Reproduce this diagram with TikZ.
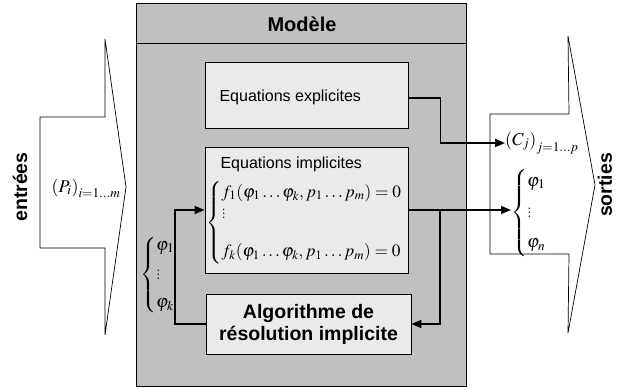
\documentclass[tikz,border=0pt]{standalone}
\usepackage{mathptmx}
\usepackage[no-math]{fontspec}
\setsansfont{Liberation Sans}
\usetikzlibrary{arrows.meta}

\definecolor{modelgray}{HTML}{C0C0C0}
\definecolor{boxgray}{HTML}{EAEAEA}

\tikzset{
  frame/.style={draw=black, line width=0.8pt},
  blockbox/.style={frame, fill=boxgray, inner sep=0pt},
  bigarrow/.style={draw=black, line width=0.7pt, fill=white, line join=miter},
  conn/.style={line width=1.6pt},
  arr/.style={conn, -{Triangle[length=10pt,width=8pt]}},
  plain/.style={font=\sffamily\fontsize{16}{19}\selectfont},
  heavy/.style={font=\sffamily\bfseries\fontsize{19.5}{22}\selectfont},
  mathtxt/.style={font=\fontsize{18}{20}\selectfont, inner sep=0pt},
}

\begin{document}
\begin{tikzpicture}[x=1pt,y=-1pt]
  % page
  \path[fill=white] (0,0) rectangle (620,389);
  \useasboundingbox (0,0) rectangle (620,389);

  % input and output block arrows
  \draw[bigarrow] (40,117) -- (105,117) -- (105,39) -- (126,187)
    -- (105,335) -- (105,248) -- (40,248) -- cycle;
  \draw[bigarrow] (490,114) -- (569,114) -- (568,36) -- (595,185)
    -- (568,333) -- (569,254) -- (490,254) -- cycle;

  \node[heavy, rotate=90] (inlabel) at (20,187) {entrées};
  \node[heavy, rotate=90] (outlabel) at (605,185) {sorties};

  \node[mathtxt] (pin) at (86,188) {$\left(P_i\right)_{i=1\ldots m}$};

  % model frame
  \node[frame, fill=modelgray, minimum width=330pt, minimum height=383pt,
        inner sep=0pt] (model) at (301,194.5) {};
  \draw[frame] (model.west |- 0,43) -- (model.east |- 0,43);
  \node[font=\sffamily\bfseries\fontsize{20}{24}\selectfont] (title) at (302,24) {Modèle};

  % inner blocks
  \node[blockbox, minimum width=203pt, minimum height=66pt] (explicit) at (306.5,95) {};
  \node[plain, anchor=west] (explabel) at (216,97) {Equations explicites};

  \node[blockbox, minimum width=203pt, minimum height=126pt] (implicit) at (306.5,210) {};
  \node[plain, anchor=west] (implabel) at (217,164) {Equations implicites};
  \node[mathtxt, font=\fontsize{17.3}{20}\selectfont, anchor=west] (system) at (206,223)
    {$\left\{\arraycolsep=0pt
    \begin{array}{l}
      f_1(\varphi_1\ldots\varphi_k, p_1\ldots p_m)=0\\
      \vdots\\[18pt]
      f_k(\varphi_1\ldots\varphi_k, p_1\ldots p_m)=0
    \end{array}\right.$};

  \node[blockbox, minimum width=205pt, minimum height=60pt, heavy, align=center]
    (algo) at (308.5,324) {Algorithme de\\résolution implicite};

  % unknowns fed back to the implicit system
  \node[mathtxt, anchor=west] (phileft) at (140,275) {$\left\{\arraycolsep=0pt
    \begin{array}{l}
      \varphi_1\\[8pt]
      \vdots\\[8pt]
      \varphi_k
    \end{array}\right.$};

  % outputs
  \node[mathtxt, anchor=west] (cout) at (505,143) {$\left(C_j\right)_{j=1\ldots p}$};
  \node[mathtxt, anchor=west] (phiout) at (511,213) {$\left\{\arraycolsep=0pt
    \begin{array}{l}
      \varphi_1\\[10pt]
      \vdots\\[10pt]
      \varphi_n
    \end{array}\right.$};

  % connectors
  \coordinate (rj) at (440,210);
  \coordinate (lj) at (175,210);
  \draw[arr] ([yshift=-3pt]explicit.east) -- ++(32,0) |- (cout.west);
  \draw[arr] (implicit.east) -- (implicit.east -| phiout.west);
  \draw[arr] (rj) |- (algo.east);
  \draw[arr] (algo.west) -| (lj) -- (implicit.west);
\end{tikzpicture}
\end{document}
